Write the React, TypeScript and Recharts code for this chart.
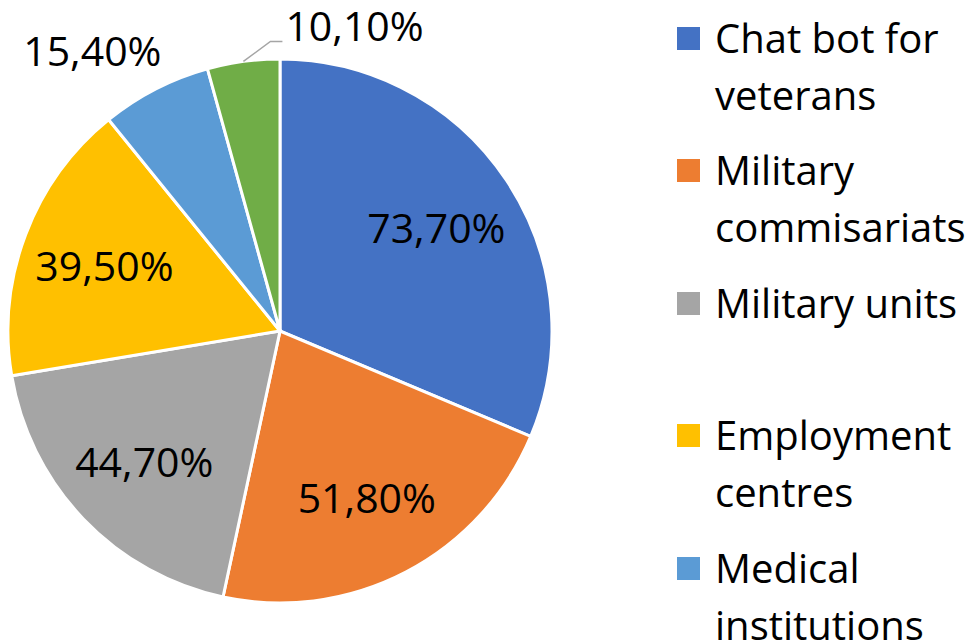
import React from "react";
import { PieChart, Pie, Cell, Legend } from "recharts";

// chart values
const categories = [
  "Chat bot for veterans",
  "Military commisariats",
  "Military units",
  "Employment centres",
  "Medical institutions",
  "Other",
];
const values = [73.7, 51.8, 44.7, 39.5, 15.4, 10.1];
const colors = ["#4472C4", "#ED7D31", "#A5A5A5", "#FFC000", "#5B9BD5", "#70AD47"];

const data = categories.map((name, i) => ({ name, value: values[i] }));

const FONT = "'Open Sans', sans-serif";
const RADIAN = Math.PI / 180;

const fmt = (v: number) => v.toFixed(2).replace(".", ",") + "%";

const renderLabel = (props: any) => {
  const { cx, cy, midAngle, outerRadius, percent, value, index } = props;
  const cos = Math.cos(-midAngle * RADIAN);
  const sin = Math.sin(-midAngle * RADIAN);
  const text = fmt(value);

  if (percent < 0.05) {
    // small slice: callout with leader line
    const ex = cx + outerRadius * cos;
    const ey = cy + outerRadius * sin;
    const bx = ex + 27;
    const by = ey - 20;
    const tx = bx + 12;
    return (
      <g key={`lbl-${index}`}>
        <polyline
          points={`${ex},${ey} ${bx},${by} ${tx},${by}`}
          fill="none"
          stroke="#A5A5A5"
          strokeWidth={1.5}
        />
        <text x={tx + 3} y={by} fill="#000" fontSize={41} fontFamily={FONT} textAnchor="start">
          {text}
        </text>
      </g>
    );
  }

  if (percent < 0.08) {
    // outside label, no line
    const ex = cx + outerRadius * cos;
    const ey = cy + outerRadius * sin;
    return (
      <text
        key={`lbl-${index}`}
        x={ex + 6}
        y={ey - 23}
        fill="#000"
        fontSize={41}
        fontFamily={FONT}
        textAnchor="end"
      >
        {text}
      </text>
    );
  }

  const r = outerRadius * 0.69;
  return (
    <text
      key={`lbl-${index}`}
      x={cx + r * cos}
      y={cy + r * sin}
      fill="#000"
      fontSize={41}
      fontFamily={FONT}
      textAnchor="middle"
      dominantBaseline="central"
    >
      {text}
    </text>
  );
};

const renderLegend = () => (
  <div style={{ fontFamily: FONT, fontSize: 40, color: "#000" }}>
    {categories.map((name, i) => (
      <div
        key={name}
        style={{
          height: 132.4,
          paddingTop: 9,
          boxSizing: "border-box",
          display: "flex",
          alignItems: "flex-start",
        }}
      >
        <div
          style={{
            width: 23,
            height: 23,
            marginTop: 18,
            marginRight: 15,
            background: colors[i],
            flexShrink: 0,
          }}
        />
        <div style={{ width: 262, lineHeight: "57px", whiteSpace: "normal" }}>{name}</div>
      </div>
    ))}
  </div>
);

export default function App() {
  return (
    <div
      style={{
        position: "absolute",
        left: 0,
        top: 0,
        width: 980,
        height: 644,
        overflow: "hidden",
        background: "#fff",
      }}
    >
      <PieChart width={980} height={644} margin={{ top: 0, right: 0, bottom: 0, left: 0 }}>
        <Pie
          data={data}
          dataKey="value"
          nameKey="name"
          cx={280}
          cy={331}
          outerRadius={272}
          startAngle={90}
          endAngle={-270}
          stroke="#fff"
          strokeWidth={3}
          label={renderLabel}
          labelLine={false}
          isAnimationActive={false}
        >
          {data.map((d, i) => (
            <Cell key={d.name} fill={colors[i]} />
          ))}
        </Pie>
        <Legend
          layout="vertical"
          align="right"
          verticalAlign="top"
          content={renderLegend}
          wrapperStyle={{ left: 677, top: 0, width: 303 }}
        />
      </PieChart>
    </div>
  );
}
